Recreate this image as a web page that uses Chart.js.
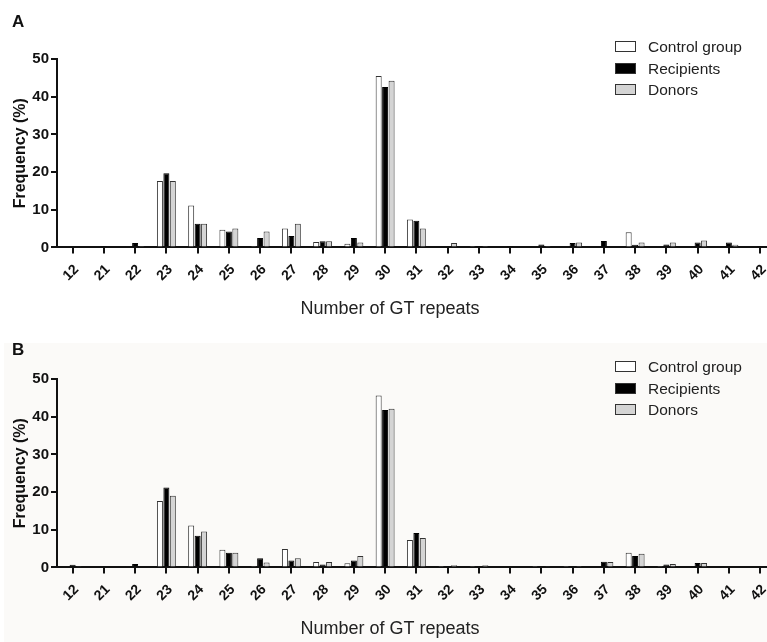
<!DOCTYPE html>
<html>
<head>
<meta charset="utf-8">
<script src="https://cdn.jsdelivr.net/npm/chart.js@4.4.0/dist/chart.umd.min.js"></script>
<style>
  html, body { margin: 0; padding: 0; width: 767px; height: 642px; overflow: hidden; background: #fff; font-family: Arial, "Liberation Sans", sans-serif; }
  .panel { position: absolute; left: 0; width: 780px; height: 320px; }
  #bgB { position: absolute; left: 4px; top: 343px; width: 770px; height: 300px; background: #fbfaf8; }
  .tag { position: absolute; left: 12px; font: bold 17px Arial, "Liberation Sans", sans-serif; color: #111; }
  .legend { position: absolute; left: 615px; font: 15.5px Arial, "Liberation Sans", sans-serif; color: #222; }
  .legend div { height: 21.5px; line-height: 21.5px; position: relative; padding-left: 33px; }
  .legend span { position: absolute; left: 0; top: 5px; width: 19px; height: 9px; border: 1.5px solid #333; }
</style>
</head>
<body>
<div id="bgB"></div>
<div class="panel" id="panelA" style="top:0"><canvas id="chartA"></canvas></div>
<div class="panel" id="panelB" style="top:320px"><canvas id="chartB"></canvas></div>
<div class="tag" style="top:12px">A</div>
<div class="tag" style="top:340px">B</div>
<div class="legend" style="top:36px">
  <div><span style="background:#fff"></span>Control group</div>
  <div><span style="background:#000"></span>Recipients</div>
  <div><span style="background:#d4d4d4"></span>Donors</div>
</div>
<div class="legend" style="top:356px">
  <div><span style="background:#fff"></span>Control group</div>
  <div><span style="background:#000"></span>Recipients</div>
  <div><span style="background:#d4d4d4"></span>Donors</div>
</div>
<script>
// Categorías: número de repeticiones GT
const repeats = ['12','21','22','23','24','25','26','27','28','29','30','31','32','33','34','35','36','37','38','39','40','41','42'];
const seriesNames = ['Control group', 'Recipients', 'Donors'];

// Panel A
const controlA    = [0.2, 0.2, 0.2, 17.6, 11.1, 4.7, 0.4, 5.0, 1.4, 1.0, 45.5, 7.4, 0,   0.1, 0,   0.2, 0.2, 0,   4.0, 0.2, 0.2, 0,   0];
const recipientsA = [0,   0.4, 1.2, 19.7, 6.3,  4.2, 2.5, 3.0, 1.6, 2.5, 42.6, 7.1, 0,   0.4, 0.4, 0.8, 1.2, 1.7, 0.7, 0.8, 1.3, 1.3, 0.4];
const donorsA     = [0,   0,   0.4, 17.6, 6.3,  5.0, 4.2, 6.3, 1.6, 1.3, 44.2, 5.0, 1.2, 0.4, 0,   0.4, 1.3, 0,   1.3, 1.3, 1.8, 0.7, 0];

// Panel B
const controlB    = [0.2, 0.2, 0.2, 17.6, 11.1, 4.7, 0.4, 4.9, 1.4, 1.1, 45.6, 7.3, 0.1, 0.1, 0,   0.1, 0.1, 0,   3.9, 0.1, 0,   0,   0];
const recipientsB = [0.7, 0,   0.9, 21.2, 8.4,  3.9, 2.4, 1.8, 0.8, 1.8, 41.8, 9.1, 0.2, 0,   0,   0,   0,   1.5, 3.0, 0.8, 1.2, 0,   0];
const donorsB     = [0.3, 0,   0,   19.0, 9.5,  3.9, 1.3, 2.4, 1.4, 3.0, 42.1, 7.8, 0.6, 0.6, 0,   0.3, 0.1, 1.4, 3.6, 0.9, 1.2, 0,   0];

const yTicks = [0, 10, 20, 30, 40, 50];

const fillColors = ['#ffffff', '#000000', '#d4d4d4'];
const edgeColors = ['#333333', '#000000', '#333333'];

function makeChart(canvasId, series) {
    const ctx = document.getElementById(canvasId).getContext('2d');
    return new Chart(ctx, {
        type: 'bar',
        data: {
            labels: repeats,
            datasets: series.map((vals, i) => ({
                label: seriesNames[i],
                data: vals,
                backgroundColor: fillColors[i],
                borderColor: edgeColors[i],
                borderWidth: 1,
                categoryPercentage: 0.62,
                barPercentage: 0.93
            }))
        },
        options: {
            responsive: true,
            maintainAspectRatio: false,
            animation: false,
            layout: { padding: { top: 59, left: 0, right: 0, bottom: 0 } },
            scales: {
                x: {
                    offset: true,
                    afterFit: (scale) => { scale.height = 51; },
                    border: { display: true, color: '#111', width: 2 },
                    grid: { display: true, offset: false, drawOnChartArea: false, drawTicks: true, tickLength: 6, color: '#111', lineWidth: 2 },
                    ticks: { color: '#111', minRotation: 45, maxRotation: 45, autoSkip: false, padding: 8, labelOffset: 4, font: { family: 'Arial, "Liberation Sans"', size: 14, weight: 'bold' } }
                },
                y: {
                    min: 0,
                    max: 50,
                    afterFit: (scale) => { scale.width = 57; },
                    afterBuildTicks: (scale) => { scale.ticks = yTicks.map(v => ({ value: v })); },
                    border: { display: true, color: '#111', width: 2 },
                    grid: { display: true, drawOnChartArea: false, drawTicks: true, tickLength: 6, color: '#111', lineWidth: 2 },
                    ticks: { color: '#111', padding: 2, font: { family: 'Arial, "Liberation Sans"', size: 15, weight: 'bold' } },
                    title: { display: true, text: 'Frequency (%)', color: '#111', padding: { top: 11, bottom: 0 }, font: { family: 'Arial, "Liberation Sans"', size: 16, weight: 'bold' } }
                }
            },
            plugins: {
                legend: { display: false },
                tooltip: { enabled: false },
                title: {
                    display: true,
                    position: 'bottom',
                    text: 'Number of GT repeats',
                    color: '#222',
                    padding: { top: 0, bottom: 0 },
                    font: { family: 'Arial, "Liberation Sans"', size: 18, weight: 'normal' }
                }
            }
        }
    });
}

makeChart('chartA', [controlA, recipientsA, donorsA]);
makeChart('chartB', [controlB, recipientsB, donorsB]);
</script>
</body>
</html>
